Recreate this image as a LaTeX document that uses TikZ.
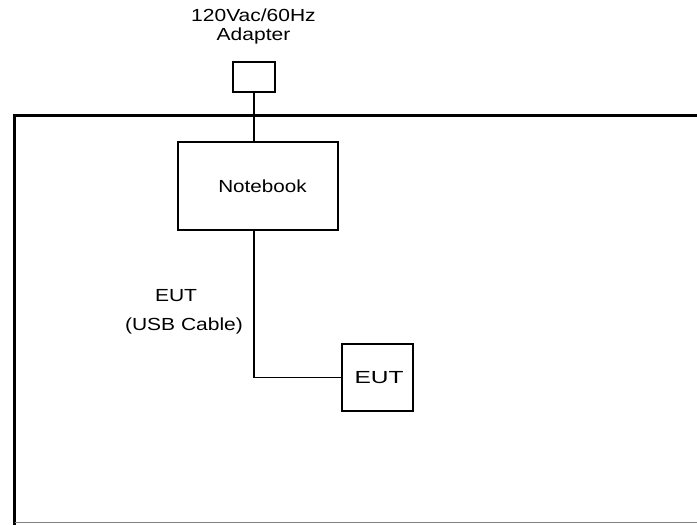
\documentclass[tikz,border=0pt]{standalone}
\usepackage{fontspec}
\setmainfont{Liberation Sans}
\begin{document}
\begin{tikzpicture}[x=1pt,y=-1pt,
  box/.style={draw=black,line width=1.4pt,fill=white,inner sep=0pt},
  wire/.style={draw=black,line width=1.4pt},
  lbl/.style={font=\fontsize{17.5}{19}\selectfont,inner sep=0pt,align=center}]
\useasboundingbox (0,0) rectangle (697,525);
% outer frame
\draw[line width=3.5pt,line cap=rect] (14.5,525) -- (14.5,115.5) -- (700,115.5);
\draw[gray,line width=1pt] (14.5,522) -- (697,522);
% nodes
\node[box,minimum width=42pt,minimum height=30pt] (adp) at (254,77) {};
\node[box,minimum width=160pt,minimum height=88pt] (nb) at (258,186) {};
\node[lbl] (nbt) at (262.5,186) {\scalebox{1.18}[1]{Notebook}};
\node[box,minimum width=71pt,minimum height=67pt] (eut) at (377.5,377.5) {};
\node[lbl] (eutt) at (379,377.5) {\scalebox{1.4}[1]{EUT}};
\node[lbl] (adpt) at (253.5,26.5) {\scalebox{1.2}[1]{120Vac/60Hz}\\\scalebox{1.2}[1]{Adapter}};
\node[lbl] (cab1) at (176,296) {\scalebox{1.2}[1]{EUT}};
\node[lbl] (cab2) at (184,326) {\scalebox{1.2}[1]{(USB Cable)}};
% connectors
\draw[wire] (adp.south) -- (adp.south |- nb.north);
\draw[wire] (254,229.5) |- (eut.west);
\end{tikzpicture}
\end{document}
